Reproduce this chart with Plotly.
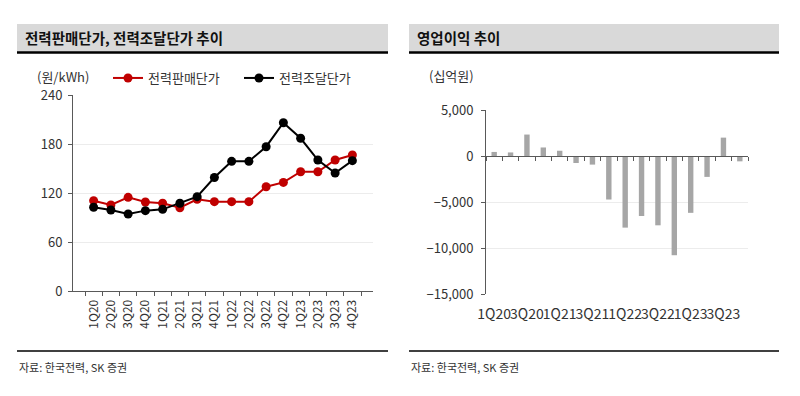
import plotly.graph_objects as go

quarters = ["1Q20", "2Q20", "3Q20", "4Q20", "1Q21", "2Q21", "3Q21", "4Q21",
            "1Q22", "2Q22", "3Q22", "4Q22", "1Q23", "2Q23", "3Q23", "4Q23"]
sale_price = [110.6, 105.3, 114.7, 109.0, 107.4, 102.0, 112.3, 109.4,
              109.4, 109.4, 127.7, 133.0, 146.0, 146.0, 160.4, 166.5]
purchase_price = [102.5, 99.2, 94.3, 98.4, 100.0, 107.4, 115.5, 139.0,
                  158.8, 158.8, 176.7, 206.0, 187.0, 160.4, 144.5, 159.6]
op_profit = [441, 387, 2331, 927, 571, -764, -936, -4729,
             -7786, -6522, -7534, -10785, -6178, -2272, 1997, -580]

left_ticks = [0, 60, 120, 180, 240]
right_ticks = [-15000, -10000, -5000, 0, 5000]
right_ticktext = [q if i % 2 == 0 else "" for i, q in enumerate(quarters)]

W, H = 800, 396
FONT = "Noto Sans CJK KR"
RED = "#c00000"
BLACK = "#000000"
BAR = "#a6a6a6"
AXIS = "#595959"
GRID = "#ececec"
TXT = "#333333"


def px(x):
    return x / W


def py(y):
    return 1 - y / H


fig = go.Figure()

fig.add_trace(go.Scatter(x=quarters, y=sale_price, name="전력판매단가",
                         mode="lines+markers", line=dict(color=RED, width=2),
                         marker=dict(size=9, color=RED), xaxis="x", yaxis="y"))
fig.add_trace(go.Scatter(x=quarters, y=purchase_price, name="전력조달단가",
                         mode="lines+markers", line=dict(color=BLACK, width=2),
                         marker=dict(size=9, color=BLACK), xaxis="x", yaxis="y"))

fig.add_trace(go.Bar(x=quarters, y=op_profit, marker=dict(color=BAR, line=dict(width=0)),
                     width=0.33, showlegend=False, xaxis="x2", yaxis="y2"))
# invisible helper trace for the zero-line tick axis
fig.add_trace(go.Scatter(x=quarters, y=op_profit, mode="lines", line=dict(width=0),
                         hoverinfo="skip", showlegend=False, xaxis="x3", yaxis="y2"))

y2_range = [-15000, 5000]
y2_dom = [py(294), py(110)]
zero_pos = y2_dom[0] + (0 - y2_range[0]) / (y2_range[1] - y2_range[0]) * (y2_dom[1] - y2_dom[0])

fig.update_layout(
    width=W, height=H,
    margin=dict(l=0, r=0, t=0, b=0, autoexpand=False),
    paper_bgcolor="white", plot_bgcolor="white",
    font=dict(family=FONT, size=12, color=TXT),
    showlegend=True,
    legend=dict(orientation="h", x=px(108), y=py(63), xanchor="left", yanchor="top",
                font=dict(size=13, color=TXT), bgcolor="rgba(0,0,0,0)",
                tracegroupgap=0, entrywidth=86),
    xaxis=dict(domain=[px(73), px(373)], anchor="y", type="category", automargin=False,
               showline=True, linecolor=AXIS, linewidth=1,
               ticks="outside", tickson="boundaries", ticklen=4, tickcolor=AXIS,
               tickangle=-90, tickfont=dict(size=12, color=TXT), ticklabelstandoff=3,
               showgrid=False, fixedrange=True),
    yaxis=dict(domain=[py(291), py(95)], anchor="x", range=[0, 240], automargin=False,
               tickvals=left_ticks, showline=True, linecolor=AXIS, linewidth=1,
               ticks="outside", ticklen=4, tickcolor=AXIS, ticklabelstandoff=3,
               showgrid=True, gridcolor=GRID, zeroline=False,
               tickfont=dict(size=13, color=TXT)),
    xaxis2=dict(domain=[px(486), px(748)], anchor="y2", type="category", automargin=False,
                tickvals=quarters, ticktext=right_ticktext, tickangle=0,
                ticks="", showline=False, showgrid=False, ticklabelstandoff=10,
                tickfont=dict(size=14, color=TXT)),
    xaxis3=dict(domain=[px(486), px(748)], anchor="free", position=zero_pos,
                overlaying="x2", matches="x2", type="category", automargin=False,
                showticklabels=False, showline=True, linecolor=AXIS, linewidth=1,
                ticks="outside", tickson="boundaries", ticklen=4, tickcolor=AXIS,
                showgrid=False),
    yaxis2=dict(domain=y2_dom, anchor="x2", range=y2_range, automargin=False,
                tickvals=right_ticks, tickformat=",", showline=True,
                linecolor=AXIS, linewidth=1, ticks="outside", ticklen=4,
                tickcolor=AXIS, ticklabelstandoff=5,
                showgrid=True, gridcolor=GRID, zeroline=False,
                tickfont=dict(size=13, color=TXT)),
    bargap=0.67,
)

shapes = []
for x0, x1 in [(17, 388), (409, 779)]:
    shapes.append(dict(type="rect", xref="paper", yref="paper",
                       x0=px(x0), x1=px(x1), y0=py(52), y1=py(24),
                       fillcolor="#d9d9d9", line=dict(width=0), layer="below"))
    shapes.append(dict(type="line", xref="paper", yref="paper",
                       x0=px(x0), x1=px(x1), y0=py(52.5), y1=py(52.5),
                       line=dict(color="#000000", width=2.5)))
    shapes.append(dict(type="line", xref="paper", yref="paper",
                       x0=px(x0), x1=px(x1), y0=py(351), y1=py(351),
                       line=dict(color="#000000", width=1.5)))
fig.update_layout(shapes=shapes)

annotations = [
    dict(text="<b>전력판매단가, 전력조달단가 추이</b>", x=px(23), y=py(38),
         xanchor="left", yanchor="middle", font=dict(size=14.5, color="#111111")),
    dict(text="<b>영업이익 추이</b>", x=px(415), y=py(38),
         xanchor="left", yanchor="middle", font=dict(size=14.5, color="#111111")),
    dict(text="(원/kWh)", x=px(35), y=py(76), xanchor="left", yanchor="middle",
         font=dict(size=13, color=TXT)),
    dict(text="(십억원)", x=px(427), y=py(75), xanchor="left", yanchor="middle",
         font=dict(size=13, color=TXT)),
    dict(text="자료: 한국전력, SK 증권", x=px(17), y=py(367), xanchor="left",
         yanchor="middle", font=dict(size=11, color=TXT)),
    dict(text="자료: 한국전력, SK 증권", x=px(409), y=py(367), xanchor="left",
         yanchor="middle", font=dict(size=11, color=TXT)),
]
for a in annotations:
    a.update(xref="paper", yref="paper", showarrow=False)
fig.update_layout(annotations=annotations)

fig.write_html("out.html", config={"displayModeBar": False},
               post_script="document.body.style.margin='0';document.body.style.overflow='hidden';")
